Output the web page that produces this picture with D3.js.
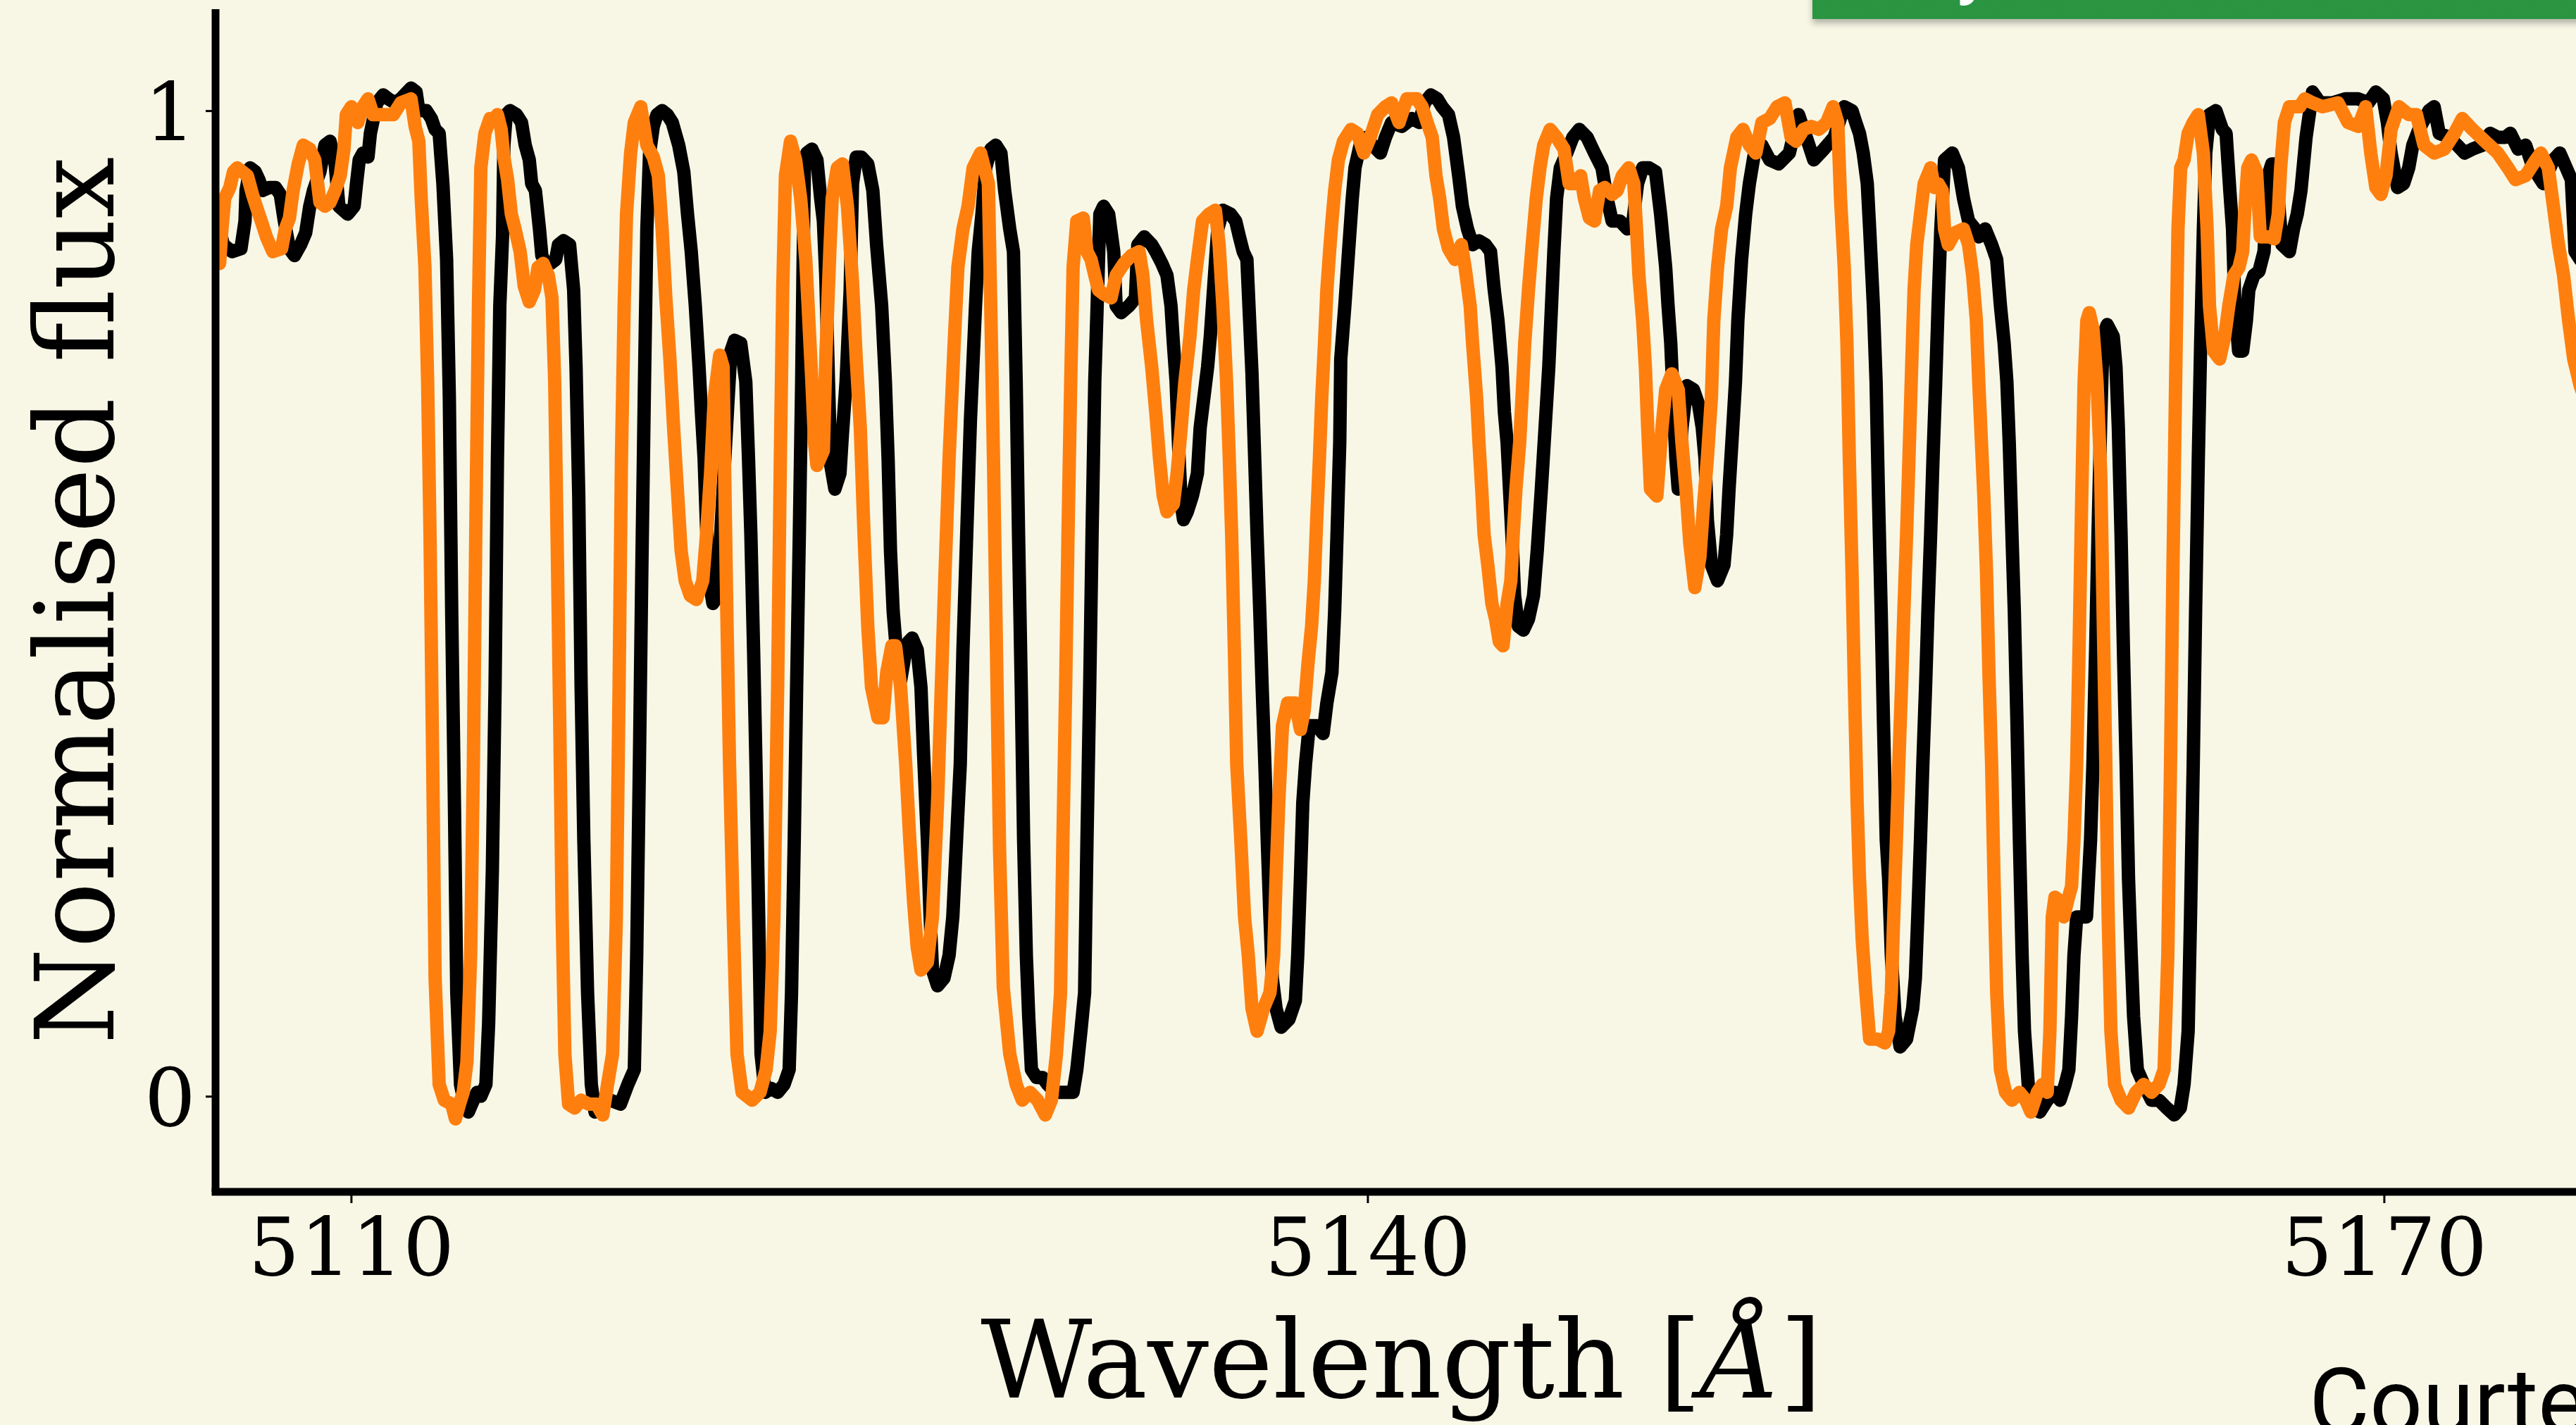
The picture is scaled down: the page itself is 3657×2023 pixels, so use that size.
<!DOCTYPE html>
<html>
<head>
<meta charset="utf-8">
<script src="https://cdn.jsdelivr.net/npm/d3@7"></script>
<style>
  html, body { margin: 0; padding: 0; background: #f8f7e6; overflow: hidden; }
  svg { display: block; }
</style>
</head>
<body>
<svg id="chart" width="3657" height="2023"></svg>
<script>
// Spectrum traced as [wavelength (Å), normalised flux]
const spectrumBlack = [
[5106.12,0.880],[5106.23,0.864],[5106.49,0.857],[5106.75,0.860],[5106.87,0.888],[5106.90,0.919],[5107.02,0.942],[5107.17,0.938],[5107.28,0.930],[5107.39,0.919],[5107.58,0.922],[5107.77,0.922],[5107.91,0.915],[5108.03,0.888],[5108.18,0.860],[5108.33,0.853],[5108.51,0.864],[5108.66,0.876],[5108.78,0.903],[5108.89,0.919],[5109.08,0.938],[5109.23,0.965],[5109.38,0.969],[5109.53,0.946],[5109.64,0.903],[5109.90,0.895],[5110.09,0.903],[5110.16,0.926],[5110.24,0.950],[5110.35,0.957],[5110.50,0.953],[5110.57,0.977],[5110.76,1.008],[5110.95,1.016],[5111.10,1.012],[5111.29,1.008],[5111.47,1.012],[5111.77,1.023],[5111.92,1.019],[5112.00,1.000],[5112.22,1.000],[5112.37,0.992],[5112.48,0.981],[5112.60,0.977],[5112.71,0.926],[5112.82,0.849],[5112.90,0.709],[5112.97,0.492],[5113.05,0.298],[5113.12,0.105],[5113.23,0.012],[5113.35,-0.008],[5113.46,-0.016],[5113.61,-0.004],[5113.72,0.004],[5113.83,0.000],[5113.98,0.012],[5114.06,0.074],[5114.17,0.229],[5114.25,0.415],[5114.32,0.647],[5114.39,0.802],[5114.47,0.872],[5114.51,0.965],[5114.58,0.996],[5114.69,1.000],[5114.88,0.996],[5115.03,0.988],[5115.14,0.965],[5115.26,0.950],[5115.33,0.926],[5115.44,0.919],[5115.56,0.880],[5115.63,0.853],[5115.74,0.845],[5115.89,0.845],[5116.04,0.849],[5116.12,0.864],[5116.27,0.868],[5116.45,0.864],[5116.57,0.818],[5116.64,0.740],[5116.72,0.609],[5116.79,0.415],[5116.87,0.260],[5116.98,0.105],[5117.09,0.012],[5117.20,-0.016],[5117.35,-0.012],[5117.42,-0.004],[5117.65,-0.004],[5117.95,-0.008],[5118.17,0.012],[5118.36,0.027],[5118.43,0.143],[5118.51,0.337],[5118.58,0.531],[5118.66,0.725],[5118.73,0.880],[5118.81,0.957],[5118.92,0.984],[5119.03,0.996],[5119.18,1.000],[5119.33,0.996],[5119.48,0.988],[5119.67,0.965],[5119.82,0.938],[5119.93,0.895],[5120.04,0.857],[5120.16,0.802],[5120.27,0.740],[5120.34,0.694],[5120.42,0.647],[5120.49,0.578],[5120.57,0.523],[5120.68,0.500],[5120.83,0.508],[5120.91,0.570],[5121.02,0.640],[5121.13,0.709],[5121.21,0.756],[5121.32,0.767],[5121.50,0.764],[5121.65,0.725],[5121.73,0.647],[5121.80,0.570],[5121.88,0.453],[5121.95,0.337],[5122.03,0.182],[5122.10,0.043],[5122.22,0.004],[5122.40,0.008],[5122.59,0.004],[5122.78,0.012],[5122.93,0.027],[5123.00,0.105],[5123.08,0.260],[5123.15,0.415],[5123.23,0.570],[5123.30,0.725],[5123.34,0.841],[5123.38,0.942],[5123.45,0.957],[5123.60,0.961],[5123.75,0.950],[5123.86,0.911],[5123.94,0.888],[5124.01,0.833],[5124.09,0.725],[5124.16,0.640],[5124.28,0.616],[5124.43,0.632],[5124.50,0.671],[5124.61,0.725],[5124.73,0.818],[5124.80,0.926],[5124.91,0.953],[5125.06,0.953],[5125.25,0.946],[5125.40,0.919],[5125.51,0.864],[5125.66,0.802],[5125.77,0.725],[5125.85,0.647],[5125.92,0.554],[5126.00,0.492],[5126.11,0.446],[5126.22,0.422],[5126.34,0.446],[5126.45,0.461],[5126.56,0.465],[5126.71,0.453],[5126.82,0.415],[5126.90,0.345],[5127.01,0.260],[5127.09,0.182],[5127.16,0.128],[5127.31,0.112],[5127.50,0.120],[5127.65,0.143],[5127.76,0.182],[5127.87,0.260],[5127.98,0.337],[5128.06,0.453],[5128.17,0.570],[5128.28,0.686],[5128.43,0.802],[5128.51,0.857],[5128.62,0.895],[5128.73,0.942],[5128.88,0.961],[5129.03,0.965],[5129.18,0.957],[5129.29,0.919],[5129.44,0.880],[5129.55,0.857],[5129.63,0.725],[5129.70,0.570],[5129.78,0.415],[5129.85,0.260],[5129.93,0.143],[5130.00,0.081],[5130.08,0.027],[5130.23,0.019],[5130.41,0.019],[5130.56,0.012],[5130.79,0.004],[5131.01,0.004],[5131.31,0.004],[5131.42,0.027],[5131.54,0.066],[5131.65,0.105],[5131.72,0.260],[5131.80,0.415],[5131.87,0.570],[5131.95,0.725],[5132.02,0.802],[5132.10,0.895],[5132.21,0.903],[5132.36,0.895],[5132.51,0.857],[5132.58,0.802],[5132.73,0.795],[5132.96,0.802],[5133.15,0.810],[5133.22,0.864],[5133.41,0.872],[5133.63,0.864],[5133.75,0.857],[5133.93,0.845],[5134.08,0.833],[5134.20,0.802],[5134.27,0.764],[5134.35,0.725],[5134.42,0.663],[5134.50,0.601],[5134.57,0.585],[5134.68,0.593],[5134.83,0.609],[5134.98,0.632],[5135.06,0.678],[5135.17,0.709],[5135.28,0.740],[5135.36,0.771],[5135.47,0.826],[5135.58,0.880],[5135.73,0.899],[5135.96,0.895],[5136.11,0.888],[5136.22,0.872],[5136.33,0.857],[5136.44,0.849],[5136.52,0.787],[5136.59,0.733],[5136.67,0.647],[5136.74,0.570],[5136.82,0.492],[5136.89,0.415],[5136.97,0.337],[5137.04,0.260],[5137.12,0.182],[5137.19,0.120],[5137.30,0.089],[5137.45,0.070],[5137.68,0.078],[5137.87,0.097],[5137.94,0.143],[5138.02,0.221],[5138.09,0.298],[5138.17,0.337],[5138.28,0.376],[5138.50,0.376],[5138.69,0.368],[5138.80,0.399],[5138.95,0.430],[5139.03,0.492],[5139.10,0.570],[5139.18,0.663],[5139.21,0.748],[5139.33,0.802],[5139.44,0.857],[5139.55,0.911],[5139.63,0.942],[5139.78,0.965],[5139.96,0.973],[5140.15,0.965],[5140.38,0.957],[5140.53,0.973],[5140.71,0.988],[5141.01,0.984],[5141.31,0.992],[5141.53,0.988],[5141.68,1.008],[5141.87,1.016],[5142.06,1.012],[5142.20,1.004],[5142.39,0.996],[5142.54,0.973],[5142.69,0.934],[5142.80,0.903],[5142.95,0.880],[5143.10,0.864],[5143.29,0.868],[5143.48,0.864],[5143.63,0.857],[5143.74,0.818],[5143.85,0.787],[5143.97,0.740],[5144.04,0.694],[5144.12,0.663],[5144.19,0.616],[5144.26,0.570],[5144.34,0.508],[5144.45,0.477],[5144.60,0.473],[5144.75,0.484],[5144.90,0.508],[5145.01,0.554],[5145.13,0.616],[5145.24,0.678],[5145.35,0.740],[5145.43,0.802],[5145.50,0.857],[5145.58,0.911],[5145.69,0.942],[5145.88,0.957],[5146.06,0.973],[5146.25,0.981],[5146.48,0.973],[5146.70,0.957],[5146.92,0.942],[5147.07,0.911],[5147.22,0.888],[5147.45,0.888],[5147.67,0.880],[5147.82,0.884],[5147.97,0.926],[5148.12,0.942],[5148.31,0.942],[5148.50,0.938],[5148.65,0.895],[5148.80,0.841],[5148.87,0.802],[5148.95,0.764],[5149.02,0.709],[5149.10,0.647],[5149.17,0.616],[5149.28,0.678],[5149.43,0.721],[5149.62,0.717],[5149.77,0.702],[5149.88,0.678],[5149.96,0.647],[5150.03,0.585],[5150.15,0.539],[5150.33,0.523],[5150.52,0.539],[5150.60,0.570],[5150.67,0.616],[5150.78,0.678],[5150.86,0.725],[5150.93,0.787],[5151.04,0.849],[5151.16,0.895],[5151.27,0.926],[5151.42,0.957],[5151.64,0.965],[5151.87,0.950],[5152.13,0.946],[5152.45,0.957],[5152.72,0.996],[5152.99,0.969],[5153.17,0.950],[5153.47,0.961],[5153.77,0.973],[5154.07,1.004],[5154.30,1.000],[5154.41,0.988],[5154.52,0.977],[5154.63,0.957],[5154.75,0.926],[5154.82,0.880],[5154.93,0.802],[5155.01,0.725],[5155.08,0.609],[5155.16,0.492],[5155.23,0.376],[5155.31,0.260],[5155.38,0.221],[5155.46,0.143],[5155.57,0.081],[5155.72,0.050],[5155.91,0.058],[5156.09,0.089],[5156.17,0.120],[5156.24,0.182],[5156.32,0.260],[5156.39,0.337],[5156.47,0.415],[5156.54,0.492],[5156.62,0.570],[5156.69,0.647],[5156.77,0.725],[5156.84,0.802],[5156.92,0.880],[5157.03,0.950],[5157.26,0.957],[5157.44,0.942],[5157.59,0.911],[5157.74,0.888],[5157.93,0.880],[5158.04,0.872],[5158.23,0.880],[5158.42,0.864],[5158.57,0.849],[5158.68,0.802],[5158.79,0.764],[5158.87,0.725],[5158.94,0.663],[5159.02,0.570],[5159.09,0.492],[5159.17,0.376],[5159.24,0.260],[5159.32,0.143],[5159.39,0.066],[5159.50,0.012],[5159.65,-0.012],[5159.84,-0.016],[5160.06,-0.004],[5160.29,0.004],[5160.44,-0.004],[5160.59,0.012],[5160.70,0.027],[5160.78,0.081],[5160.85,0.143],[5160.93,0.182],[5161.04,0.182],[5161.22,0.182],[5161.34,0.260],[5161.41,0.337],[5161.49,0.453],[5161.56,0.570],[5161.64,0.686],[5161.71,0.771],[5161.83,0.783],[5162.01,0.771],[5162.09,0.740],[5162.16,0.678],[5162.24,0.570],[5162.31,0.453],[5162.39,0.337],[5162.46,0.221],[5162.54,0.143],[5162.61,0.081],[5162.72,0.027],[5162.91,0.012],[5163.14,-0.004],[5163.36,-0.004],[5163.59,-0.012],[5163.81,-0.019],[5163.99,-0.012],[5164.10,0.012],[5164.22,0.066],[5164.29,0.182],[5164.37,0.337],[5164.44,0.492],[5164.52,0.647],[5164.59,0.764],[5164.67,0.880],[5164.74,0.957],[5164.85,0.996],[5165.04,1.000],[5165.23,0.981],[5165.34,0.977],[5165.45,0.919],[5165.53,0.880],[5165.60,0.802],[5165.71,0.756],[5165.83,0.756],[5165.94,0.787],[5166.01,0.818],[5166.16,0.833],[5166.31,0.837],[5166.46,0.857],[5166.58,0.934],[5166.69,0.946],[5166.80,0.946],[5166.88,0.911],[5166.99,0.864],[5167.21,0.857],[5167.33,0.880],[5167.44,0.895],[5167.55,0.919],[5167.70,0.973],[5167.89,1.019],[5168.11,1.008],[5168.49,1.008],[5168.86,1.012],[5169.24,1.012],[5169.54,1.008],[5169.76,1.019],[5169.98,1.012],[5170.10,0.988],[5170.21,0.957],[5170.40,0.922],[5170.58,0.926],[5170.73,0.942],[5170.85,0.965],[5171.03,0.981],[5171.33,1.000],[5171.48,1.004],[5171.63,0.977],[5171.93,0.973],[5172.16,0.965],[5172.38,0.957],[5172.61,0.961],[5172.91,0.965],[5173.13,0.977],[5173.36,0.973],[5173.58,0.973],[5173.73,0.977],[5173.96,0.961],[5174.18,0.965],[5174.40,0.942],[5174.70,0.926],[5175.00,0.950],[5175.19,0.957],[5175.38,0.942],[5175.53,0.930],[5175.64,0.857],[5175.79,0.849],[5176.00,0.850]
];

const spectrumOrange = [
[5106.12,0.845],[5106.19,0.880],[5106.27,0.911],[5106.42,0.922],[5106.53,0.938],[5106.64,0.942],[5106.79,0.938],[5106.94,0.934],[5107.09,0.915],[5107.24,0.899],[5107.35,0.888],[5107.50,0.872],[5107.69,0.857],[5107.95,0.860],[5108.06,0.880],[5108.18,0.891],[5108.29,0.919],[5108.44,0.946],[5108.59,0.965],[5108.78,0.961],[5108.93,0.950],[5109.08,0.907],[5109.23,0.903],[5109.38,0.907],[5109.53,0.919],[5109.68,0.934],[5109.79,0.961],[5109.86,0.996],[5110.01,1.004],[5110.20,0.988],[5110.35,1.004],[5110.50,1.012],[5110.65,0.996],[5110.87,0.996],[5111.02,0.996],[5111.25,0.996],[5111.47,1.008],[5111.77,1.012],[5111.89,0.984],[5112.00,0.969],[5112.07,0.911],[5112.18,0.841],[5112.26,0.725],[5112.33,0.570],[5112.41,0.337],[5112.48,0.120],[5112.60,0.012],[5112.75,-0.004],[5112.97,-0.008],[5113.08,-0.023],[5113.20,-0.008],[5113.31,0.004],[5113.42,0.035],[5113.53,0.143],[5113.61,0.337],[5113.68,0.570],[5113.76,0.802],[5113.83,0.942],[5113.95,0.977],[5114.10,0.992],[5114.25,0.992],[5114.32,0.996],[5114.43,0.981],[5114.51,0.953],[5114.62,0.930],[5114.73,0.895],[5114.84,0.880],[5114.99,0.857],[5115.11,0.822],[5115.26,0.806],[5115.41,0.818],[5115.52,0.841],[5115.67,0.845],[5115.82,0.833],[5115.93,0.810],[5116.01,0.725],[5116.08,0.570],[5116.16,0.376],[5116.23,0.182],[5116.31,0.043],[5116.42,-0.008],[5116.60,-0.012],[5116.79,-0.004],[5117.02,-0.008],[5117.24,-0.008],[5117.43,-0.019],[5117.57,0.012],[5117.72,0.043],[5117.83,0.182],[5117.91,0.415],[5117.98,0.647],[5118.06,0.802],[5118.13,0.895],[5118.25,0.957],[5118.36,0.988],[5118.55,1.004],[5118.73,0.965],[5118.92,0.953],[5119.07,0.934],[5119.18,0.880],[5119.29,0.810],[5119.41,0.748],[5119.52,0.678],[5119.63,0.616],[5119.74,0.554],[5119.86,0.523],[5120.01,0.508],[5120.19,0.504],[5120.38,0.523],[5120.49,0.570],[5120.61,0.632],[5120.72,0.709],[5120.88,0.752],[5120.98,0.740],[5121.02,0.647],[5121.09,0.492],[5121.17,0.337],[5121.28,0.182],[5121.39,0.043],[5121.54,0.004],[5121.84,-0.004],[5122.07,0.004],[5122.25,0.027],[5122.37,0.066],[5122.48,0.182],[5122.59,0.415],[5122.67,0.647],[5122.74,0.818],[5122.82,0.934],[5122.97,0.969],[5123.12,0.950],[5123.27,0.911],[5123.42,0.849],[5123.49,0.802],[5123.60,0.725],[5123.68,0.663],[5123.75,0.640],[5123.94,0.655],[5124.01,0.748],[5124.13,0.857],[5124.20,0.911],[5124.35,0.942],[5124.50,0.946],[5124.65,0.903],[5124.80,0.826],[5124.91,0.748],[5125.03,0.678],[5125.14,0.570],[5125.25,0.477],[5125.36,0.415],[5125.55,0.384],[5125.70,0.384],[5125.81,0.430],[5125.96,0.457],[5126.07,0.457],[5126.22,0.415],[5126.37,0.337],[5126.49,0.260],[5126.60,0.198],[5126.71,0.151],[5126.82,0.128],[5127.01,0.136],[5127.16,0.182],[5127.31,0.298],[5127.42,0.415],[5127.53,0.531],[5127.65,0.647],[5127.80,0.764],[5127.91,0.841],[5128.06,0.880],[5128.21,0.903],[5128.36,0.942],[5128.58,0.957],[5128.81,0.926],[5128.88,0.802],[5128.96,0.647],[5129.05,0.450],[5129.14,0.250],[5129.25,0.110],[5129.44,0.043],[5129.63,0.012],[5129.81,-0.004],[5130.04,0.004],[5130.26,-0.004],[5130.49,-0.019],[5130.67,-0.004],[5130.82,0.043],[5130.94,0.105],[5131.01,0.260],[5131.09,0.415],[5131.16,0.570],[5131.24,0.725],[5131.31,0.841],[5131.42,0.888],[5131.61,0.891],[5131.72,0.857],[5131.84,0.849],[5131.95,0.833],[5132.06,0.818],[5132.21,0.814],[5132.43,0.810],[5132.58,0.833],[5132.81,0.845],[5133.03,0.853],[5133.26,0.857],[5133.37,0.833],[5133.48,0.787],[5133.63,0.740],[5133.75,0.694],[5133.86,0.647],[5133.97,0.609],[5134.08,0.593],[5134.27,0.601],[5134.38,0.632],[5134.50,0.678],[5134.61,0.725],[5134.76,0.771],[5134.87,0.818],[5134.98,0.849],[5135.13,0.888],[5135.32,0.895],[5135.51,0.899],[5135.62,0.864],[5135.73,0.802],[5135.84,0.725],[5135.92,0.647],[5135.99,0.570],[5136.07,0.453],[5136.14,0.337],[5136.26,0.260],[5136.37,0.182],[5136.48,0.143],[5136.59,0.089],[5136.74,0.066],[5136.93,0.089],[5137.12,0.105],[5137.23,0.143],[5137.30,0.221],[5137.38,0.298],[5137.49,0.376],[5137.64,0.399],[5137.87,0.399],[5138.02,0.372],[5138.13,0.391],[5138.24,0.438],[5138.35,0.477],[5138.43,0.523],[5138.50,0.585],[5138.58,0.647],[5138.65,0.709],[5138.73,0.764],[5138.80,0.818],[5138.88,0.857],[5138.95,0.888],[5139.03,0.919],[5139.14,0.950],[5139.29,0.969],[5139.51,0.981],[5139.70,0.977],[5139.89,0.957],[5140.08,0.973],[5140.30,0.996],[5140.53,1.004],[5140.71,1.008],[5140.93,0.988],[5141.16,1.012],[5141.46,1.012],[5141.61,1.004],[5141.76,0.988],[5141.91,0.973],[5142.02,0.934],[5142.13,0.911],[5142.24,0.880],[5142.39,0.860],[5142.58,0.849],[5142.77,0.864],[5142.88,0.841],[5143.03,0.802],[5143.10,0.764],[5143.22,0.709],[5143.29,0.663],[5143.37,0.616],[5143.44,0.570],[5143.55,0.539],[5143.67,0.500],[5143.78,0.484],[5143.89,0.461],[5144.00,0.457],[5144.12,0.500],[5144.23,0.523],[5144.30,0.570],[5144.38,0.616],[5144.49,0.663],[5144.56,0.709],[5144.64,0.764],[5144.75,0.818],[5144.86,0.864],[5144.98,0.911],[5145.09,0.942],[5145.20,0.965],[5145.39,0.981],[5145.58,0.973],[5145.80,0.961],[5145.95,0.926],[5146.10,0.926],[5146.29,0.934],[5146.40,0.911],[5146.55,0.891],[5146.70,0.888],[5146.85,0.919],[5147.00,0.922],[5147.22,0.915],[5147.37,0.919],[5147.52,0.934],[5147.71,0.942],[5147.86,0.926],[5147.94,0.880],[5148.01,0.833],[5148.12,0.787],[5148.20,0.740],[5148.27,0.678],[5148.35,0.616],[5148.54,0.609],[5148.69,0.678],[5148.80,0.717],[5148.98,0.733],[5149.17,0.717],[5149.28,0.663],[5149.40,0.616],[5149.51,0.562],[5149.66,0.516],[5149.81,0.547],[5149.92,0.601],[5150.03,0.647],[5150.15,0.709],[5150.22,0.787],[5150.33,0.841],[5150.45,0.880],[5150.60,0.903],[5150.71,0.942],[5150.90,0.973],[5151.08,0.981],[5151.27,0.965],[5151.46,0.957],[5151.64,0.988],[5151.87,0.992],[5152.09,1.004],[5152.32,1.008],[5152.50,0.973],[5152.65,0.969],[5152.87,0.981],[5153.10,0.984],[5153.32,0.981],[5153.55,0.988],[5153.74,1.004],[5153.88,0.988],[5153.96,0.911],[5154.07,0.841],[5154.15,0.764],[5154.22,0.647],[5154.30,0.531],[5154.37,0.415],[5154.45,0.298],[5154.52,0.221],[5154.60,0.159],[5154.71,0.105],[5154.82,0.058],[5155.05,0.058],[5155.27,0.054],[5155.38,0.066],[5155.46,0.105],[5155.53,0.182],[5155.61,0.260],[5155.68,0.337],[5155.76,0.415],[5155.83,0.492],[5155.91,0.570],[5155.98,0.647],[5156.06,0.740],[5156.13,0.818],[5156.21,0.864],[5156.32,0.895],[5156.43,0.926],[5156.62,0.942],[5156.73,0.922],[5156.84,0.926],[5156.96,0.919],[5157.03,0.880],[5157.14,0.864],[5157.33,0.876],[5157.59,0.880],[5157.74,0.864],[5157.86,0.833],[5157.97,0.787],[5158.04,0.725],[5158.12,0.663],[5158.19,0.609],[5158.27,0.531],[5158.34,0.430],[5158.42,0.337],[5158.49,0.221],[5158.57,0.105],[5158.68,0.027],[5158.83,0.004],[5159.02,-0.004],[5159.24,0.004],[5159.43,-0.004],[5159.58,-0.016],[5159.77,0.004],[5159.92,0.012],[5160.06,0.004],[5160.14,0.066],[5160.21,0.182],[5160.29,0.202],[5160.44,0.198],[5160.55,0.182],[5160.66,0.198],[5160.78,0.213],[5160.85,0.260],[5160.93,0.337],[5161.00,0.453],[5161.08,0.609],[5161.15,0.725],[5161.23,0.787],[5161.30,0.795],[5161.41,0.779],[5161.53,0.725],[5161.64,0.632],[5161.71,0.492],[5161.79,0.337],[5161.86,0.182],[5161.94,0.066],[5162.05,0.012],[5162.24,-0.004],[5162.46,-0.012],[5162.68,0.004],[5162.91,0.012],[5163.14,0.004],[5163.36,0.012],[5163.51,0.027],[5163.62,0.143],[5163.70,0.337],[5163.77,0.531],[5163.85,0.725],[5163.92,0.880],[5164.00,0.942],[5164.10,0.950],[5164.22,0.977],[5164.37,0.988],[5164.52,0.996],[5164.67,0.957],[5164.78,0.880],[5164.85,0.802],[5164.97,0.756],[5165.15,0.748],[5165.30,0.771],[5165.42,0.802],[5165.57,0.833],[5165.72,0.841],[5165.83,0.857],[5165.90,0.903],[5165.98,0.942],[5166.09,0.950],[5166.24,0.938],[5166.35,0.872],[5166.61,0.872],[5166.76,0.870],[5166.88,0.895],[5166.95,0.942],[5167.06,0.988],[5167.21,1.004],[5167.51,1.004],[5167.66,1.012],[5167.89,1.008],[5168.19,1.004],[5168.64,1.008],[5168.94,0.988],[5169.24,0.984],[5169.46,1.004],[5169.61,0.957],[5169.76,0.922],[5169.91,0.915],[5170.06,0.934],[5170.21,0.981],[5170.44,1.004],[5170.73,0.996],[5170.96,0.996],[5171.18,0.965],[5171.48,0.957],[5171.78,0.961],[5172.08,0.977],[5172.31,0.992],[5172.61,0.981],[5172.98,0.969],[5173.36,0.957],[5173.66,0.942],[5173.88,0.930],[5174.18,0.934],[5174.48,0.950],[5174.63,0.957],[5174.85,0.942],[5175.00,0.903],[5175.15,0.864],[5175.30,0.833],[5175.45,0.787],[5175.60,0.748],[5175.79,0.721],[5176.00,0.700]
];

const xTickValues = [5110, 5140, 5170];
const yTickValues = [0, 1];
const xLabel = "Wavelength [";
const xLabelUnit = "Å";
const yLabel = "Normalised flux";
const creditText = "Courtesy";

const W = 3657, H = 2023;
const svg = d3.select("#chart");

const defs = svg.append("defs");
const shadow = defs.append("filter").attr("id", "bannerShadow")
  .attr("x", "-10%").attr("y", "-50%").attr("width", "120%").attr("height", "250%");
shadow.append("feDropShadow").attr("dx", 0).attr("dy", 6).attr("stdDeviation", 5)
  .attr("flood-color", "#000").attr("flood-opacity", 0.28);

const grain = defs.append("filter").attr("id", "grain");
grain.append("feTurbulence").attr("type", "fractalNoise").attr("baseFrequency", 0.9)
  .attr("numOctaves", 2).attr("seed", 4).attr("result", "noise");
grain.append("feColorMatrix").attr("in", "noise").attr("type", "matrix")
  .attr("values", "0 0 0 0 0  0 0 0 0 0  0 0 0 0 0  0 0 0 0.12 0").attr("result", "dark");
grain.append("feComposite").attr("in", "dark").attr("in2", "SourceGraphic").attr("operator", "in").attr("result", "darkIn");
grain.append("feMerge").call(m => { m.append("feMergeNode").attr("in", "SourceGraphic"); m.append("feMergeNode").attr("in", "darkIn"); });

defs.append("clipPath").attr("id", "plotClip")
  .append("rect").attr("x", 306).attr("y", 0).attr("width", W).attr("height", 1692);

svg.append("rect").attr("width", W).attr("height", H).attr("fill", "#f8f7e6");

// Axes geometry
const x = d3.scaleLinear().domain([5106.0, 5176.0]).range([306, 3673]);
const y = d3.scaleLinear().domain([-0.097, 1.103]).range([1692, 13]);

const line = d3.line().x(d => x(d[0])).y(d => y(d[1]));

const plot = svg.append("g").attr("clip-path", "url(#plotClip)");
plot.append("path").datum(spectrumBlack)
  .attr("d", line).attr("fill", "none").attr("stroke", "#000000")
  .attr("stroke-width", 19).attr("stroke-linejoin", "round").attr("stroke-linecap", "round");
plot.append("path").datum(spectrumOrange)
  .attr("d", line).attr("fill", "none").attr("stroke", "#ff7f0e")
  .attr("stroke-width", 19).attr("stroke-linejoin", "round").attr("stroke-linecap", "round");

const serif = "'DejaVu Serif', serif";

// Bottom axis
const xAxis = svg.append("g").attr("transform", `translate(0,${y.range()[0]})`)
  .call(d3.axisBottom(x).tickValues(xTickValues).tickSizeInner(16).tickSizeOuter(0).tickFormat(d3.format("d")));
xAxis.select(".domain").remove();
xAxis.selectAll(".tick line").attr("stroke", "#000").attr("stroke-width", 3);
xAxis.selectAll(".tick text").attr("y", 118).attr("dy", 0)
  .attr("font-family", serif).attr("font-size", 115).attr("fill", "#000");

// Left axis
const yAxis = svg.append("g").attr("transform", `translate(${x.range()[0]},0)`)
  .call(d3.axisLeft(y).tickValues(yTickValues).tickSizeInner(14).tickSizeOuter(0).tickFormat(d3.format("d")));
yAxis.select(".domain").remove();
yAxis.selectAll(".tick line").attr("stroke", "#000").attr("stroke-width", 3);
yAxis.selectAll(".tick text").attr("x", -28).attr("dy", "0.36em")
  .attr("font-family", serif).attr("font-size", 115).attr("fill", "#000");

// Spines
svg.append("line").attr("x1", x.range()[0]).attr("x2", W + 20)
  .attr("y1", y.range()[0]).attr("y2", y.range()[0])
  .attr("stroke", "#000").attr("stroke-width", 11).attr("stroke-linecap", "square");
svg.append("line").attr("x1", x.range()[0]).attr("x2", x.range()[0])
  .attr("y1", y.range()[1]).attr("y2", y.range()[0])
  .attr("stroke", "#000").attr("stroke-width", 11);

// Axis labels
const xl = svg.append("text")
  .attr("x", (x.range()[0] + x.range()[1]) / 2).attr("y", 1984)
  .attr("text-anchor", "middle").attr("font-family", serif).attr("font-size", 154).attr("fill", "#000");
xl.append("tspan").text(xLabel);
xl.append("tspan").attr("font-style", "italic").text(xLabelUnit);
xl.append("tspan").text("]");

svg.append("text")
  .attr("transform", `translate(161,${(y.range()[0] + y.range()[1]) / 2}) rotate(-90)`)
  .attr("text-anchor", "middle").attr("font-family", serif).attr("font-size", 156).attr("fill", "#000")
  .text(yLabel);

// Banner in the top-right corner
const banner = svg.append("g");
banner.append("rect").attr("x", 2573).attr("y", -60).attr("width", 1200).attr("height", 87)
  .attr("fill", "#2f9a45").attr("filter", "url(#bannerShadow)");
banner.append("rect").attr("x", 2573).attr("y", -60).attr("width", 1200).attr("height", 87)
  .attr("fill", "#2f9a45").attr("filter", "url(#grain)");
banner.append("text").attr("x", 2778).attr("y", -15)
  .attr("font-family", "Roboto, sans-serif").attr("font-size", 110).attr("fill", "#ffffff")
  .text("y");

// Credit line
svg.append("text").attr("x", 3278).attr("y", 2036)
  .attr("font-family", "Roboto, sans-serif").attr("font-size", 132).attr("fill", "#000")
  .text(creditText);
</script>
</body>
</html>
